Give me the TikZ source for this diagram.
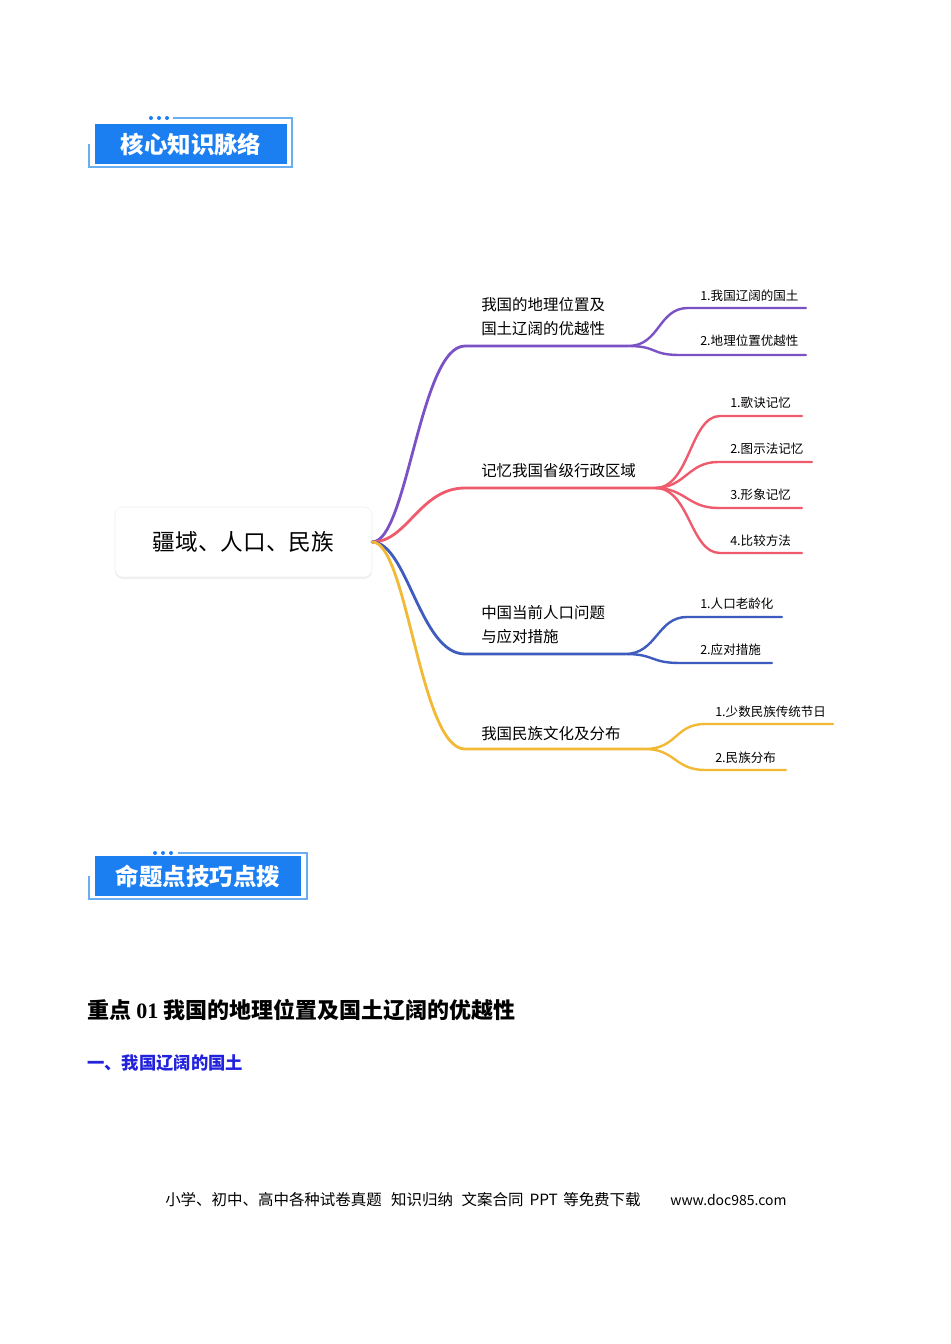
\documentclass[tikz,border=0pt]{standalone}
\usepackage{fontspec}
\setmainfont{Noto Sans CJK SC}
\newfontfamily\serifdigits{Liberation Serif}
\usetikzlibrary{positioning,calc,shadows}
\definecolor{mmpurple}{HTML}{7B52C6}
\definecolor{mmred}{HTML}{EF5B6C}
\definecolor{mmblue}{HTML}{3E5CC0}
\definecolor{mmyellow}{HTML}{F2B935}
\definecolor{hdblue}{HTML}{1B7FF2}
\definecolor{hdframe}{HTML}{6AAEF2}
\definecolor{subblue}{HTML}{2222DD}

\begin{document}
\begin{tikzpicture}[
    x=0.75pt, y=-0.75pt,
    header/.style={fill=hdblue, text=white, minimum height=30pt, inner sep=0pt,
        font=\fontsize{17.6}{20}\selectfont\bfseries},
    frame/.style={draw=hdframe, line width=1pt},
    root/.style={draw=gray!12, fill=white, rounded corners=6pt, minimum width=192.75pt,
        minimum height=52.5pt, font=\fontsize{17}{20}\selectfont,
        drop shadow={opacity=0.12, shadow xshift=0pt, shadow yshift=-1.5pt}},
    branch/.style={anchor=west, align=left, inner sep=0pt, font=\fontsize{11.6}{18}\selectfont},
    leaf/.style={anchor=west, inner sep=0pt, font=\fontsize{9.4}{11}\selectfont},
    main/.style={line width=2.1pt, line cap=round},
    twig/.style={line width=1.8pt, line cap=round}
]
\useasboundingbox[fill=white] (0,0) rectangle (950,1344);

% Headers
\node[header, minimum width=144pt] (hd1) at (191,144) {核心知识脉络};
\draw[frame] (173,118) -- (292,118) -- (292,167) -- (89,167) -- (89,144);
\foreach \dx in {151,159,167} \fill[hdblue] (\dx,118) circle (2);

\node[header, minimum width=154.5pt] (hd2) at (198,876) {命题点技巧点拨};
\draw[frame] (178,853) -- (307,853) -- (307,899) -- (89,899) -- (89,876);
\foreach \dx in {155,163,171} \fill[hdblue] (\dx,853) circle (2);

% Mind map nodes
\node[root] (root) at (243.5,542) {疆域、人口、民族};

\node[branch] (geo) at (481,317) {我国的地理位置及\\国土辽阔的优越性};
\node[leaf] (geoa) at (700,296) {1.我国辽阔的国土};
\node[leaf] (geob) at (700,341) {2.地理位置优越性};
\coordinate (geo0) at (465,346);
\coordinate (geo1) at (628,346);

\node[branch] (prov) at (481,471) {记忆我国省级行政区域};
\node[leaf] (prova) at (730,403) {1.歌诀记忆};
\node[leaf] (provb) at (730,449) {2.图示法记忆};
\node[leaf] (provc) at (730,495) {3.形象记忆};
\node[leaf] (provd) at (730,541) {4.比较方法};
\coordinate (prov0) at (465,488);
\coordinate (prov1) at (655,488);

\node[branch] (pop) at (481,625) {中国当前人口问题\\与应对措施};
\node[leaf] (popa) at (700,604) {1.人口老龄化};
\node[leaf] (popb) at (700,650) {2.应对措施};
\coordinate (pop0) at (465,654);
\coordinate (pop1) at (625,654);

\node[branch] (eth) at (481,734) {我国民族文化及分布};
\node[leaf] (etha) at (715,712) {1.少数民族传统节日};
\node[leaf] (ethb) at (715,758) {2.民族分布};
\coordinate (eth0) at (465,749);
\coordinate (eth1) at (645,749);

% Connections
\draw[main, mmpurple] (root.east) .. controls +(35,0) and +(-45,0) .. (geo0) -- (geo1);
\draw[twig, mmpurple] (geo1) .. controls +(32,0) and +(-30,0) .. (688,308) -- (806,308);
\draw[twig, mmpurple] (geo1) .. controls +(30,0) and +(-30,0) .. (680,355) -- (806,355);

\draw[main, mmred] (root.east) .. controls +(35,0) and +(-45,0) .. (prov0) -- (prov1);
\draw[twig, mmred] (prov1) .. controls +(35,0) and +(-30,0) .. (720,416) -- (802,416);
\draw[twig, mmred] (prov1) .. controls +(30,0) and +(-30,0) .. (718,462) -- (812,462);
\draw[twig, mmred] (prov1) .. controls +(30,0) and +(-30,0) .. (718,508) -- (802,508);
\draw[twig, mmred] (prov1) .. controls +(35,0) and +(-30,0) .. (720,553) -- (802,553);

\draw[main, mmblue] (root.east) .. controls +(35,0) and +(-45,0) .. (pop0) -- (pop1);
\draw[twig, mmblue] (pop1) .. controls +(32,0) and +(-30,0) .. (687,617) -- (782,617);
\draw[twig, mmblue] (pop1) .. controls +(30,0) and +(-30,0) .. (680,663) -- (772,663);

\draw[main, mmyellow] (root.east) .. controls +(35,0) and +(-45,0) .. (eth0) -- (eth1);
\draw[twig, mmyellow] (eth1) .. controls +(32,0) and +(-30,0) .. (705,724) -- (833,724);
\draw[twig, mmyellow] (eth1) .. controls +(30,0) and +(-30,0) .. (705,770) -- (786,770);

% Text below
\node[anchor=west, inner sep=0pt, font=\fontsize{16.5}{18}\selectfont\bfseries] (key)
    at (87,1010) {重点 {\serifdigits\bfseries 01} 我国的地理位置及国土辽阔的优越性};
\node[anchor=west, inner sep=0pt, text=subblue, font=\fontsize{13}{15}\selectfont\bfseries] (sub)
    at (87,1063) {一、我国辽阔的国土};
\node[anchor=west, inner sep=0pt, font=\fontsize{11.6}{13}\selectfont] (foot)
    at (165,1200) {小学、初中、高中各种试卷真题\hspace{7pt}知识归纳\hspace{6.5pt}文案合同\hspace{4.5pt}PPT\hspace{4pt}等免费下载};
\node[anchor=west, inner sep=0pt, font=\fontsize{10.5}{13}\selectfont] (site)
    at (670,1200) {www.doc985.com};
\end{tikzpicture}
\end{document}
